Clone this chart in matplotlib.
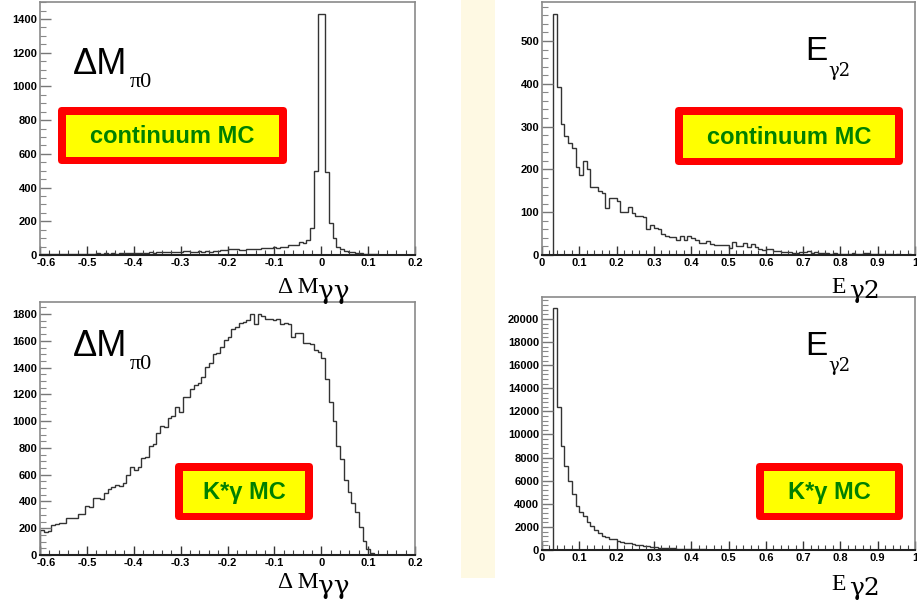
import numpy as np
import matplotlib.pyplot as plt
from matplotlib.patches import FancyBboxPatch, Rectangle
from matplotlib.ticker import MultipleLocator, FixedLocator
from matplotlib.transforms import ScaledTranslation

# delta M(gamma gamma): 100 bins from -0.6 to 0.2
dm_edges = np.linspace(-0.6, 0.2, 101)
dm_continuum = [5, 6, 4, 7, 5, 6, 8, 5, 7, 6, 8, 7, 6,
                8, 7, 9, 8, 10, 7, 9, 8, 10, 9, 11, 10, 12,
                11, 13, 12, 15, 14, 18, 16, 17, 15, 19, 18, 17,
                26, 25, 20, 19, 21, 20, 22, 20, 23, 22, 28, 30,
                36, 38, 34, 30, 32, 33, 36, 38, 35, 40,
                42, 39, 46, 44, 50, 47, 62, 58,
                62, 75, 70, 88,
                160, 500, 1430, 1430, 490, 190, 100, 50, 35, 26, 20, 16,
                13, 10, 8, 6, 4, 3, 2, 2, 1, 1,
                0, 0, 0, 0, 0, 0]
dm_kstar = [190, 175, 180, 224, 230, 236, 236, 274, 280, 280,
            306, 306, 366, 355, 423, 423, 416, 460, 490, 510,
            523, 518, 535, 598, 660, 635, 660, 722, 730, 814,
            829, 909, 963, 957, 1021, 1038, 1103, 1070, 1178, 1178,
            1237, 1270, 1287, 1327, 1407, 1436, 1501, 1510, 1551, 1606,
            1631, 1686, 1700, 1730, 1743, 1755, 1800, 1725, 1800, 1785,
            1765, 1760, 1755, 1760, 1725, 1730, 1722, 1631, 1661, 1655,
            1581, 1581, 1576, 1531, 1519, 1469, 1312, 1145, 1003, 814,
            715, 560, 473, 386, 324, 212, 107, 42, 12, 0,
            0, 0, 0, 0, 0, 0, 0, 0, 0, 0]

# E(gamma2): 100 bins from 0 to 1
e_edges = np.linspace(0, 1, 101)
e_continuum = [0, 0, 0,
               563, 393, 307, 279, 262, 251, 206, 188, 220, 202,
               160, 158, 150, 144, 110, 133, 133, 125, 100, 100,
               111, 97, 91, 91, 89, 60, 69, 63, 60, 48,
               45, 42, 42, 35, 44, 35, 44, 40, 35, 29,
               28, 33, 25, 24, 24, 24, 24,
               16, 31, 22, 22, 28, 18, 25, 18, 15, 12,
               14, 15, 9, 10, 6, 8, 6, 5, 4, 7,
               8, 10, 5, 6, 5, 4, 5, 3, 4, 2,
               3, 2, 3, 4, 2, 3, 5, 4, 2, 3,
               2, 3, 2, 2, 1, 2, 1, 1, 2, 1]
e_kstar = [0, 0, 0,
           20950, 12370, 9020, 7280, 5970, 4890, 3780, 3320, 2910, 2390,
           2100, 1750, 1460, 1220, 1110, 990, 930, 820, 730, 640,
           580, 520, 470, 410, 350, 320, 290, 235, 210, 190,
           170, 150, 130, 115, 100, 90, 80, 70, 60, 52,
           45, 40, 35, 30, 26, 22, 19, 16, 14, 12,
           10, 9, 8, 7, 6, 6, 5, 5, 4, 4,
           3, 3, 3, 2, 2, 2, 2, 2, 1, 1,
           1, 1, 1, 1, 1, 1, 1, 0, 1, 0,
           0, 1, 0, 0, 0, 0, 1, 0, 0, 0,
           0, 0, 0, 0, 0, 0, 0]

dm_ticks = [-0.6, -0.5, -0.4, -0.3, -0.2, -0.1, 0.0, 0.1, 0.2]
dm_tick_labels = ["-0.6", "-0.5", "-0.4", "-0.3", "-0.2", "-0.1", "0", "0.1", "0.2"]
e_ticks = [0.0, 0.1, 0.2, 0.3, 0.4, 0.5, 0.6, 0.7, 0.8, 0.9, 1.0]
e_tick_labels = ["0", "0.1", "0.2", "0.3", "0.4", "0.5", "0.6", "0.7", "0.8", "0.9", "1"]

W, H = 917, 611
fig = plt.figure(figsize=(W / 100, H / 100), dpi=100)
sans = "Liberation Sans"
serif = "Liberation Serif"
greek = "DejaVu Serif"


def px_axes(x0, y0, x1, y1):
    return fig.add_axes([x0 / W, 1 - y1 / H, (x1 - x0) / W, (y1 - y0) / H])


def px_shift(dx, dy):
    return ScaledTranslation(dx / 100, dy / 100, fig.dpi_scale_trans)


def style(ax, xticks, xlabels, ymax, ystep, yminor):
    ax.set_ylim(0, ymax)
    ax.xaxis.set_major_locator(FixedLocator(xticks))
    ax.set_xticklabels(xlabels)
    ax.xaxis.set_minor_locator(MultipleLocator(0.02))
    ax.yaxis.set_major_locator(MultipleLocator(ystep))
    ax.yaxis.set_minor_locator(MultipleLocator(yminor))
    ax.tick_params(axis="y", which="major", direction="in", length=8, width=1,
                   color="#777777", pad=2, labelsize=8)
    ax.tick_params(axis="y", which="minor", direction="in", length=4.3, width=0.8,
                   color="#888888")
    ax.tick_params(axis="x", which="major", direction="in", length=6.5, width=1,
                   color="#333333", pad=2.5, labelsize=8)
    ax.tick_params(axis="x", which="minor", direction="in", length=3.3, width=0.8,
                   color="#444444")
    for lab in ax.get_xticklabels() + ax.get_yticklabels():
        lab.set_fontfamily(sans)
        lab.set_fontweight("bold")
    for s in ["top", "right", "left"]:
        ax.spines[s].set_color("#8a8a8a")
        ax.spines[s].set_linewidth(1.2)
    ax.spines["bottom"].set_color("#222222")
    ax.spines["bottom"].set_linewidth(1.5)


ax1 = px_axes(40, 2, 415, 255)
ax1.stairs(dm_continuum, dm_edges, color="#333333", lw=1)
ax1.set_xlim(-0.6, 0.2)
style(ax1, dm_ticks, dm_tick_labels, 1501, 200, 50)

ax2 = px_axes(542, 2, 915, 255)
ax2.stairs(e_continuum, e_edges, color="#333333", lw=1)
ax2.set_xlim(0, 1)
style(ax2, e_ticks, e_tick_labels, 591, 100, 20)

ax3 = px_axes(40, 302, 415, 555)
ax3.stairs(dm_kstar, dm_edges, color="#333333", lw=1)
ax3.set_xlim(-0.6, 0.2)
style(ax3, dm_ticks, dm_tick_labels, 1890, 200, 50)

ax4 = px_axes(542, 297, 915, 550)
ax4.stairs(e_kstar, e_edges, color="#333333", lw=1)
ax4.set_xlim(0, 1)
style(ax4, e_ticks, e_tick_labels, 21900, 2000, 400)

# corner labels: nudge the y "0" up/left and the first dM label right, as ROOT does
fig.canvas.draw()
for ax in (ax1, ax2, ax3, ax4):
    zero = ax.yaxis.get_major_ticks()[0].label1
    zero.set_transform(zero.get_transform() + px_shift(-2, 4))
for ax in (ax1, ax3):
    first = ax.xaxis.get_major_ticks()[0].label1
    first.set_transform(first.get_transform() + px_shift(6, 0))

# overlay in pixel coordinates for slide decorations
ov = fig.add_axes([0, 0, 1, 1])
ov.set_xlim(0, W)
ov.set_ylim(H, 0)
ov.axis("off")
ov.add_patch(Rectangle((461, 0), 34, 578, fc="#fef9e3", ec="none", zorder=0))


def label_box(x0, y0, x1, y1, text):
    ov.add_patch(FancyBboxPatch((x0, y0), x1 - x0, y1 - y0,
                                boxstyle="round,pad=0,rounding_size=4",
                                fc="#ff0000", ec="none"))
    ov.add_patch(Rectangle((x0 + 8, y0 + 7.5), x1 - x0 - 16, y1 - y0 - 15,
                           fc="#ffff00", ec="none"))
    ov.text((x0 + x1) / 2, (y0 + y1) / 2 + 1, text, ha="center", va="center",
            fontsize=17, fontweight="bold", color="#008000", family=sans)


label_box(58, 107, 287, 164, "continuum MC")
label_box(675, 107, 903, 165, "continuum MC")
label_box(175, 463, 313, 520, "K*γ MC")
label_box(756, 463, 903, 520, "K*γ MC")

# big labels inside panels
for yb in (74, 356):
    ov.text(73, yb, "ΔM", fontsize=26, family=sans, va="baseline", ha="left")
    ov.text(130, yb + 13, "π0", fontsize=16, family=serif, va="baseline", ha="left")
for yb in (60, 355):
    ov.text(805, yb, "E", fontsize=24, family=sans, va="baseline", ha="left")
    ov.text(828, yb + 16, "γ2", fontsize=13, family=greek, va="baseline", ha="left")

# axis titles
for yb in (293, 588):
    ov.text(278, yb, "Δ M", fontsize=17, family=serif, va="baseline", ha="left")
    ov.text(318, yb + 6, "γγ", fontsize=19, family=greek, va="baseline", ha="left")
for yb in (293, 590):
    ov.text(831, yb, "E", fontsize=17, family=serif, va="baseline", ha="left")
    ov.text(849, yb + 5, "γ2", fontsize=18, family=greek, va="baseline", ha="left")

fig.savefig("out.png", dpi=100)
